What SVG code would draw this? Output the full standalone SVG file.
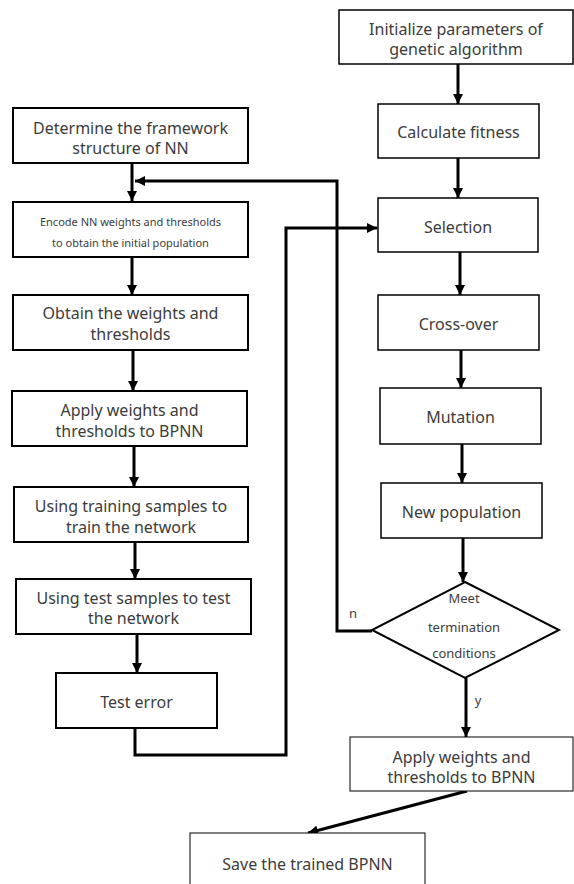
<svg xmlns="http://www.w3.org/2000/svg" width="574" height="884" viewBox="0 0 574 884">
<style>
.b2{fill:#fff;stroke:#000;stroke-width:2}
.b15{fill:#fff;stroke:#000;stroke-width:1.5}
.b1{fill:#fff;stroke:#000;stroke-width:1}
text{font-family:"Noto Sans","DejaVu Sans",sans-serif;font-size:16px;fill:#3c3c3c;text-anchor:middle}
.s{font-size:11px}
.d{font-size:13px}
.c{fill:none;stroke:#000;stroke-width:3}
</style>
<defs>
<marker id="ah" markerUnits="userSpaceOnUse" markerWidth="10" markerHeight="10" refX="10" refY="5" orient="auto">
<path d="M0,0 L10,5 L0,10 Z" fill="#000"/>
</marker>
</defs>
<rect width="574" height="884" fill="#fff"/>
<g id="connectors">
<line class="c" x1="132" y1="163" x2="132" y2="201" marker-end="url(#ah)"/>
<line class="c" x1="132" y1="257" x2="132" y2="295" marker-end="url(#ah)"/>
<line class="c" x1="133" y1="350" x2="133" y2="391" marker-end="url(#ah)"/>
<line class="c" x1="134" y1="446" x2="134" y2="487" marker-end="url(#ah)"/>
<line class="c" x1="135" y1="542" x2="135" y2="579" marker-end="url(#ah)"/>
<line class="c" x1="137" y1="634" x2="137" y2="673" marker-end="url(#ah)"/>
<polyline class="c" points="135,728 135,755 286,755 286,228 377,228" marker-end="url(#ah)"/>
<polyline class="c" points="372,631 337,631 337,181 135,181" marker-end="url(#ah)"/>
<line class="c" x1="458" y1="64" x2="458" y2="104" marker-end="url(#ah)"/>
<line class="c" x1="458" y1="158" x2="458" y2="198" marker-end="url(#ah)"/>
<line class="c" x1="460" y1="252" x2="460" y2="295" marker-end="url(#ah)"/>
<line class="c" x1="461" y1="350" x2="461" y2="388" marker-end="url(#ah)"/>
<line class="c" x1="462" y1="444" x2="462" y2="483" marker-end="url(#ah)"/>
<line class="c" x1="463" y1="538" x2="463" y2="582" marker-end="url(#ah)"/>
<line class="c" x1="466" y1="678" x2="466" y2="737" marker-end="url(#ah)"/>
<line class="c" x1="467" y1="791" x2="308" y2="833" marker-end="url(#ah)"/>
<text class="d" x="353" y="618">n</text>
<text class="d" x="478" y="705">y</text>
</g>
<g id="n1"><rect class="b2" x="13" y="108" width="235" height="55"/><text x="130.5" y="134">Determine the framework</text><text x="130.5" y="154">structure of NN</text></g>
<g id="n2"><rect class="b2" x="13" y="202" width="235" height="55"/><text class="s" x="130.5" y="226">Encode NN weights and thresholds</text><text class="s" x="130.5" y="247">to obtain the initial population</text></g>
<g id="n3"><rect class="b2" x="13" y="295" width="235" height="55"/><text x="130.5" y="319">Obtain the weights and</text><text x="130.5" y="340">thresholds</text></g>
<g id="n4"><rect class="b2" x="12" y="391" width="235" height="55"/><text x="129.5" y="416">Apply weights and</text><text x="129.5" y="437">thresholds to BPNN</text></g>
<g id="n5"><rect class="b2" x="14" y="487" width="234" height="55"/><text x="131" y="512">Using training samples to</text><text x="131" y="533">train the network</text></g>
<g id="n6"><rect class="b2" x="16" y="579" width="235" height="55"/><text x="133.5" y="604">Using test samples to test</text><text x="133.5" y="624">the network</text></g>
<g id="n7"><rect class="b2" x="56" y="673" width="161" height="55"/><text x="136.5" y="708">Test error</text></g>
<g id="r1"><rect class="b15" x="339" y="10" width="234" height="54"/><text x="456" y="35">Initialize parameters of</text><text x="456" y="55">genetic algorithm</text></g>
<g id="r2"><rect class="b15" x="378" y="104" width="161" height="54"/><text x="458.5" y="138">Calculate fitness</text></g>
<g id="r3"><rect class="b15" x="378" y="198" width="160" height="54"/><text x="458" y="233">Selection</text></g>
<g id="r4"><rect class="b15" x="378" y="295" width="161" height="55"/><text x="458.5" y="330">Cross-over</text></g>
<g id="r5"><rect class="b15" x="380" y="388" width="161" height="56"/><text x="460.5" y="423">Mutation</text></g>
<g id="r6"><rect class="b15" x="381" y="483" width="161" height="55"/><text x="461.5" y="518">New population</text></g>
<g id="r7"><polygon points="465,582 559,630 465,678 372,630" fill="#fff" stroke="#000" stroke-width="2"/><text class="d" x="464" y="603">Meet</text><text class="d" x="464" y="632">termination</text><text class="d" x="464" y="658">conditions</text></g>
<g id="r8"><rect class="b1" x="350" y="737" width="223" height="54"/><text x="461.5" y="763">Apply weights and</text><text x="461.5" y="783">thresholds to BPNN</text></g>
<g id="r9"><rect class="b1" x="190" y="833" width="235" height="60"/><text x="307.5" y="870">Save the trained BPNN</text></g>
</svg>
